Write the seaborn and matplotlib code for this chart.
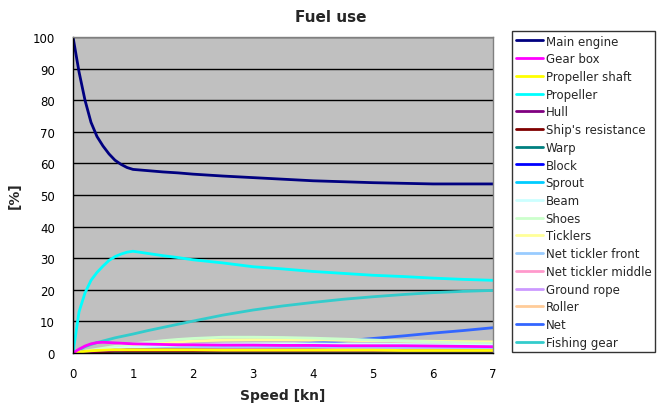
import matplotlib
matplotlib.use("Agg")
import matplotlib.pyplot as plt
import seaborn as sns
import pandas as pd

speed = [0, 0.1, 0.2, 0.3, 0.4, 0.5, 0.6, 0.7, 0.8, 0.9, 1.0, 1.25, 1.5, 1.75,
         2.0, 2.5, 3.0, 3.5, 4.0, 4.5, 5.0, 5.5, 6.0, 6.5, 7.0]

main_engine = [100, 89, 80, 73, 68.5, 65.5, 63, 61, 59.7, 58.7, 58.1, 57.7, 57.3, 57.0,
               56.6, 56.0, 55.5, 55.0, 54.5, 54.2, 53.9, 53.7, 53.5, 53.5, 53.5]
gear_box = [0, 1.2, 2.2, 2.9, 3.3, 3.4, 3.3, 3.2, 3.1, 3.0, 2.9, 2.8, 2.7, 2.6,
            2.6, 2.5, 2.5, 2.4, 2.4, 2.3, 2.3, 2.3, 2.2, 2.1, 2.0]
propeller_shaft = [0, 0.3, 0.5, 0.7, 0.8, 0.9, 1.0, 1.0, 1.0, 1.0, 1.0, 1.0, 1.0, 1.0,
                   1.0, 0.9, 0.9, 0.9, 0.9, 0.9, 0.9, 0.8, 0.8, 0.8, 0.8]
propeller = [0, 13, 19, 23, 25.5, 27.5, 29.3, 30.5, 31.3, 31.9, 32.2, 31.5, 30.8, 30.2,
             29.5, 28.5, 27.3, 26.6, 25.8, 25.2, 24.6, 24.2, 23.7, 23.3, 23.0]
hull = [0, 0.2, 0.4, 0.5, 0.6, 0.7, 0.8, 0.9, 0.9, 1.0, 1.0, 1.0, 1.0, 1.0,
        1.0, 0.9, 0.9, 0.9, 0.9, 0.8, 0.8, 0.8, 0.8, 0.8, 0.7]
ships_resistance = [0, 0.1, 0.2, 0.3, 0.4, 0.5, 0.5, 0.6, 0.6, 0.6, 0.6, 0.6, 0.6, 0.6,
                    0.6, 0.6, 0.6, 0.6, 0.6, 0.6, 0.6, 0.6, 0.6, 0.6, 0.6]
warp = [0, 0.05, 0.1, 0.15, 0.2, 0.2, 0.25, 0.25, 0.3, 0.3, 0.3, 0.3, 0.3, 0.3,
        0.3, 0.3, 0.3, 0.3, 0.3, 0.3, 0.3, 0.3, 0.3, 0.3, 0.3]
block = [0, 0.05, 0.1, 0.15, 0.2, 0.25, 0.3, 0.3, 0.35, 0.35, 0.4, 0.4, 0.4, 0.45,
         0.45, 0.45, 0.5, 0.5, 0.5, 0.5, 0.5, 0.5, 0.5, 0.5, 0.5]
sprout = [0, 0.05, 0.1, 0.1, 0.15, 0.15, 0.2, 0.2, 0.2, 0.2, 0.25, 0.25, 0.25, 0.25,
          0.25, 0.25, 0.25, 0.25, 0.25, 0.25, 0.25, 0.25, 0.25, 0.25, 0.25]
beam = [0, 0.2, 0.4, 0.6, 0.8, 1.0, 1.2, 1.4, 1.5, 1.7, 1.8, 2.1, 2.3, 2.5,
        2.6, 2.8, 2.9, 2.9, 2.9, 2.8, 2.8, 2.7, 2.6, 2.5, 2.4]
shoes = [0, 0.3, 0.6, 0.9, 1.2, 1.5, 1.8, 2.1, 2.4, 2.6, 2.9, 3.4, 3.9, 4.3,
         4.6, 5.0, 5.0, 4.9, 4.7, 4.4, 4.1, 3.8, 3.5, 3.2, 3.0]
ticklers = [0, 0.2, 0.4, 0.7, 0.9, 1.2, 1.4, 1.7, 1.9, 2.1, 2.3, 2.8, 3.2, 3.5,
            3.8, 4.1, 4.2, 4.2, 4.2, 4.0, 3.9, 3.8, 3.7, 3.6, 3.5]
net_tickler_front = [0, 0.2, 0.4, 0.6, 0.8, 0.9, 1.0, 1.1, 1.2, 1.3, 1.4, 1.5, 1.6, 1.7,
                     1.8, 1.9, 1.9, 1.9, 1.9, 1.9, 1.8, 1.8, 1.8, 1.7, 1.7]
net_tickler_middle = [0, 0.2, 0.3, 0.5, 0.6, 0.8, 0.9, 1.0, 1.1, 1.2, 1.2, 1.3, 1.4, 1.5,
                      1.5, 1.6, 1.6, 1.6, 1.6, 1.6, 1.6, 1.5, 1.5, 1.5, 1.5]
ground_rope = [0, 0.1, 0.2, 0.3, 0.4, 0.5, 0.6, 0.6, 0.7, 0.8, 0.8, 0.9, 1.0, 1.0,
               1.1, 1.1, 1.2, 1.2, 1.2, 1.2, 1.2, 1.2, 1.2, 1.2, 1.2]
roller = [0, 0.1, 0.2, 0.3, 0.4, 0.5, 0.5, 0.6, 0.6, 0.7, 0.7, 0.8, 0.8, 0.9,
          0.9, 1.0, 1.0, 1.1, 1.1, 1.1, 1.2, 1.2, 1.2, 1.2, 1.2]
net = [0, 0.02, 0.05, 0.08, 0.1, 0.13, 0.17, 0.2, 0.25, 0.3, 0.35, 0.5, 0.65, 0.8,
       1.0, 1.4, 1.9, 2.5, 3.1, 3.8, 4.6, 5.4, 6.3, 7.1, 8.0]
fishing_gear = [0, 1.0, 2.0, 2.7, 3.3, 3.8, 4.3, 4.8, 5.2, 5.6, 6.0, 7.1, 8.1, 9.1,
                10.1, 12.0, 13.6, 14.9, 16.0, 17.0, 17.8, 18.5, 19.1, 19.5, 19.8]

series_names = ["Main engine", "Gear box", "Propeller shaft", "Propeller", "Hull",
                "Ship's resistance", "Warp", "Block", "Sprout", "Beam", "Shoes",
                "Ticklers", "Net tickler front", "Net tickler middle", "Ground rope",
                "Roller", "Net", "Fishing gear"]
series_values = [main_engine, gear_box, propeller_shaft, propeller, hull,
                 ships_resistance, warp, block, sprout, beam, shoes, ticklers,
                 net_tickler_front, net_tickler_middle, ground_rope, roller, net,
                 fishing_gear]
colors = ["#000080", "#FF00FF", "#FFFF00", "#00FFFF", "#800080", "#800000",
          "#008080", "#0000FF", "#00CCFF", "#CCFFFF", "#CCFFCC", "#FFFF99",
          "#99CCFF", "#FF99CC", "#CC99FF", "#FFCC99", "#3366FF", "#33CCCC"]

rows = []
for name, vals in zip(series_names, series_values):
    for s, v in zip(speed, vals):
        rows.append({"Speed": s, "Value": v, "Series": name})
df = pd.DataFrame(rows)

sns.set_style("white")
plt.rcParams["font.family"] = ["DejaVu Sans"]

fig = plt.figure(figsize=(6.67, 4.10), dpi=100)
ax = fig.add_axes([73 / 667, 1 - 354 / 410, (493 - 73) / 667, (354 - 38) / 410])
ax.set_facecolor("#C0C0C0")

# draw in reverse so the first series end up on top
for name, col in reversed(list(zip(series_names, colors))):
    sub = df[df["Series"] == name]
    sns.lineplot(data=sub, x="Speed", y="Value", color=col, ax=ax,
                 linewidth=2.0, label=name, legend=False)

ax.set_xlim(0, 7)
ax.set_ylim(0, 100)
ax.set_xticks(range(0, 8))
ax.set_yticks(range(0, 101, 10))
ax.yaxis.grid(True, color="black", linewidth=1.0)
ax.xaxis.grid(False)
ax.set_axisbelow(True)
for sp in ["left", "bottom"]:
    ax.spines[sp].set_color("black")
    ax.spines[sp].set_linewidth(1.0)
for sp in ["top", "right"]:
    ax.spines[sp].set_color("#808080")
    ax.spines[sp].set_linewidth(1.0)
ax.tick_params(axis="both", direction="out", length=4, width=1, color="black",
               labelsize=8.5, labelcolor="black")
ax.tick_params(axis="x", pad=6)
ax.tick_params(axis="y", pad=9)
ax.set_xlabel("Speed [kn]", fontsize=10, fontweight="bold", labelpad=6)
ax.set_ylabel("[%]", fontsize=10, fontweight="bold", labelpad=8)

fig.text(331 / 667, 1 - 17 / 410, "Fuel use", ha="center", va="center",
         fontsize=11, fontweight="bold")

handles = [plt.Line2D([], [], color=c, linewidth=2) for c in colors]
leg = fig.legend(handles, series_names, loc="upper left",
                 bbox_to_anchor=(512 / 667, 1 - 32 / 410), bbox_transform=fig.transFigure,
                 fontsize=8.5, frameon=True, fancybox=False, borderaxespad=0,
                 handlelength=2.3, handletextpad=0.25, labelspacing=0.4,
                 borderpad=0.3)
leg.get_frame().set_edgecolor("black")
leg.get_frame().set_linewidth(1.0)

fig.savefig("out.png", dpi=100)
